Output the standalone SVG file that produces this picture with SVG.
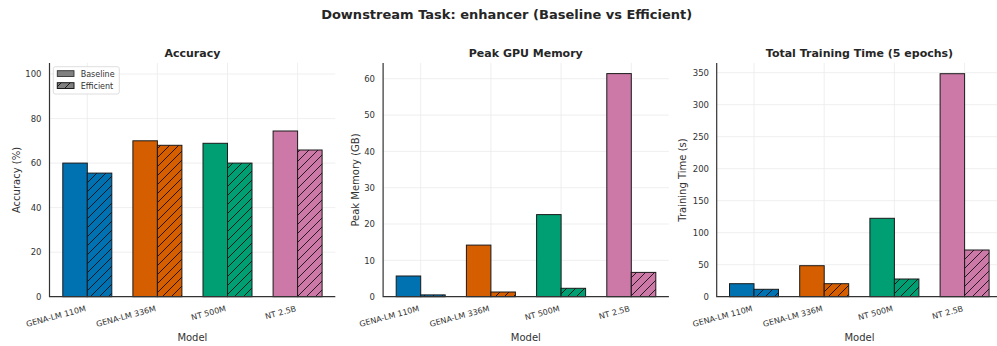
<svg xmlns="http://www.w3.org/2000/svg" width="997" height="346" viewBox="0 0 997 346">
  <style>
    text { font-family: "DejaVu Sans", "Liberation Sans", sans-serif; fill: #262626; }
    .sup { font-size: 13px; font-weight: bold; text-anchor: middle; }
    .ttl { font-size: 11px; font-weight: bold; text-anchor: middle; }
    .lab { font-size: 10px; text-anchor: middle; fill: #333; }
    .yt { font-size: 8.5px; text-anchor: end; fill: #333; }
    .xt { font-size: 8px; text-anchor: end; fill: #333; }
    .leg { font-size: 8px; fill: #333; }
    .grid line { stroke: #ebebeb; stroke-width: 0.8; }
    .spine { stroke: #333; stroke-width: 1.2; fill: none; }
    .bar { stroke: #1a1a1a; stroke-width: 1; }
    .hat { fill: url(#hatch); stroke: #1a1a1a; stroke-width: 1; }
    .blue { fill: #0072B2; } .orange { fill: #D55E00; } .green { fill: #009E73; } .pink { fill: #CC79A7; }
  </style>
  <defs>
    <pattern id="hatch" patternUnits="userSpaceOnUse" width="9" height="9">
      <path d="M0,9 L9,0 M-2.25,2.25 L2.25,-2.25 M6.75,11.25 L11.25,6.75" stroke="#000" stroke-width="0.8"/>
    </pattern>
  </defs>
  <rect width="997" height="346" fill="#fff"/>

  <text class="sup" x="506.7" y="19">Downstream Task: enhancer (Baseline vs Efficient)</text>

  <!-- Panel 1: accuracy -->
  <g id="panel-accuracy">
    <g class="grid">
      <line x1="49.5" x2="335.3" y1="252.2" y2="252.2"/>
      <line x1="49.5" x2="335.3" y1="207.6" y2="207.6"/>
      <line x1="49.5" x2="335.3" y1="163.1" y2="163.1"/>
      <line x1="49.5" x2="335.3" y1="118.6" y2="118.6"/>
      <line x1="49.5" x2="335.3" y1="74.0" y2="74.0"/>
      <line x1="87.3" x2="87.3" y1="62.9" y2="296.7"/>
      <line x1="157.4" x2="157.4" y1="62.9" y2="296.7"/>
      <line x1="227.5" x2="227.5" y1="62.9" y2="296.7"/>
      <line x1="297.6" x2="297.6" y1="62.9" y2="296.7"/>
    </g>
    <g id="acc-bars">
      <rect class="bar blue" x="62.8" y="163.1" width="24.5" height="133.6"/>
      <rect class="blue" x="87.3" y="173.1" width="24.5" height="123.6"/>
      <rect class="hat" x="87.3" y="173.1" width="24.5" height="123.6"/>
      <rect class="bar orange" x="132.9" y="140.8" width="24.5" height="155.9"/>
      <rect class="orange" x="157.4" y="145.3" width="24.5" height="151.4"/>
      <rect class="hat" x="157.4" y="145.3" width="24.5" height="151.4"/>
      <rect class="bar green" x="203.0" y="143.3" width="24.5" height="153.4"/>
      <rect class="green" x="227.5" y="163.1" width="24.5" height="133.6"/>
      <rect class="hat" x="227.5" y="163.1" width="24.5" height="133.6"/>
      <rect class="bar pink" x="273.1" y="131.0" width="24.5" height="165.7"/>
      <rect class="pink" x="297.6" y="150.0" width="24.5" height="146.7"/>
      <rect class="hat" x="297.6" y="150.0" width="24.5" height="146.7"/>
    </g>
    <path class="spine" d="M49.5,62.9 V296.7 H335.3"/>
    <text class="yt" x="41.5" y="299.8">0</text>
    <text class="yt" x="41.5" y="255.3">20</text>
    <text class="yt" x="41.5" y="210.7">40</text>
    <text class="yt" x="41.5" y="166.2">60</text>
    <text class="yt" x="41.5" y="121.7">80</text>
    <text class="yt" x="41.5" y="77.1">100</text>
    <text class="xt" transform="translate(86.3,311) rotate(-15)">GENA-LM 110M</text>
    <text class="xt" transform="translate(156.4,311) rotate(-15)">GENA-LM 336M</text>
    <text class="xt" transform="translate(226.5,311) rotate(-15)">NT 500M</text>
    <text class="xt" transform="translate(296.6,311) rotate(-15)">NT 2.5B</text>
    <text class="ttl" x="192.4" y="57">Accuracy</text>
    <text class="lab" x="192.4" y="341">Model</text>
    <text class="lab" transform="translate(19.5,180) rotate(-90)">Accuracy (%)</text>
    <g id="legend">
      <rect x="53.3" y="66.7" width="66" height="27.3" rx="2" fill="#fff" fill-opacity="0.85" stroke="#d6d6d6" stroke-width="0.8"/>
      <rect x="57.3" y="70.7" width="16.7" height="5.8" fill="#808080" stroke="#333" stroke-width="0.9"/>
      <rect x="57.3" y="82.7" width="16.7" height="5.8" fill="#808080"/>
      <rect class="hat" x="57.3" y="82.7" width="16.7" height="5.8" stroke-width="0.9"/>
      <text class="leg" x="80.7" y="76.5">Baseline</text>
      <text class="leg" x="80.7" y="88.5">Efficient</text>
    </g>
  </g>

  <!-- Panel 2: peak GPU memory -->
  <g id="panel-memory">
    <g class="grid">
      <line x1="383.1" x2="668.9" y1="260.4" y2="260.4"/>
      <line x1="383.1" x2="668.9" y1="224.0" y2="224.0"/>
      <line x1="383.1" x2="668.9" y1="187.7" y2="187.7"/>
      <line x1="383.1" x2="668.9" y1="151.4" y2="151.4"/>
      <line x1="383.1" x2="668.9" y1="115.1" y2="115.1"/>
      <line x1="383.1" x2="668.9" y1="78.7" y2="78.7"/>
      <line x1="420.7" x2="420.7" y1="62.9" y2="296.7"/>
      <line x1="490.9" x2="490.9" y1="62.9" y2="296.7"/>
      <line x1="561.1" x2="561.1" y1="62.9" y2="296.7"/>
      <line x1="631.3" x2="631.3" y1="62.9" y2="296.7"/>
    </g>
    <g id="mem-bars">
      <rect class="bar blue" x="396.2" y="276.0" width="24.5" height="20.7"/>
      <rect class="blue" x="420.7" y="294.9" width="24.5" height="1.8"/>
      <rect class="hat" x="420.7" y="294.9" width="24.5" height="1.8"/>
      <rect class="bar orange" x="466.4" y="245.1" width="24.5" height="51.6"/>
      <rect class="orange" x="490.9" y="292.0" width="24.5" height="4.7"/>
      <rect class="hat" x="490.9" y="292.0" width="24.5" height="4.7"/>
      <rect class="bar green" x="536.6" y="214.6" width="24.5" height="82.1"/>
      <rect class="green" x="561.1" y="288.3" width="24.5" height="8.4"/>
      <rect class="hat" x="561.1" y="288.3" width="24.5" height="8.4"/>
      <rect class="bar pink" x="606.8" y="73.6" width="24.5" height="223.1"/>
      <rect class="pink" x="631.3" y="272.4" width="24.5" height="24.3"/>
      <rect class="hat" x="631.3" y="272.4" width="24.5" height="24.3"/>
    </g>
    <path class="spine" d="M383.1,62.9 V296.7 H668.9"/>
    <text class="yt" x="375" y="299.8">0</text>
    <text class="yt" x="375" y="263.5">10</text>
    <text class="yt" x="375" y="227.1">20</text>
    <text class="yt" x="375" y="190.8">30</text>
    <text class="yt" x="375" y="154.5">40</text>
    <text class="yt" x="375" y="118.2">50</text>
    <text class="yt" x="375" y="81.8">60</text>
    <text class="xt" transform="translate(419.7,311) rotate(-15)">GENA-LM 110M</text>
    <text class="xt" transform="translate(489.9,311) rotate(-15)">GENA-LM 336M</text>
    <text class="xt" transform="translate(560.1,311) rotate(-15)">NT 500M</text>
    <text class="xt" transform="translate(630.3,311) rotate(-15)">NT 2.5B</text>
    <text class="ttl" x="525.8" y="57">Peak GPU Memory</text>
    <text class="lab" x="525.8" y="341">Model</text>
    <text class="lab" transform="translate(358.5,180) rotate(-90)">Peak Memory (GB)</text>
  </g>

  <!-- Panel 3: total training time -->
  <g id="panel-time">
    <g class="grid">
      <line x1="716.7" x2="997" y1="264.7" y2="264.7"/>
      <line x1="716.7" x2="997" y1="232.7" y2="232.7"/>
      <line x1="716.7" x2="997" y1="200.7" y2="200.7"/>
      <line x1="716.7" x2="997" y1="168.7" y2="168.7"/>
      <line x1="716.7" x2="997" y1="136.7" y2="136.7"/>
      <line x1="716.7" x2="997" y1="104.7" y2="104.7"/>
      <line x1="716.7" x2="997" y1="72.7" y2="72.7"/>
      <line x1="754.0" x2="754.0" y1="62.9" y2="296.7"/>
      <line x1="824.2" x2="824.2" y1="62.9" y2="296.7"/>
      <line x1="894.4" x2="894.4" y1="62.9" y2="296.7"/>
      <line x1="964.6" x2="964.6" y1="62.9" y2="296.7"/>
    </g>
    <g id="time-bars">
      <rect class="bar blue" x="729.5" y="283.7" width="24.5" height="13.0"/>
      <rect class="blue" x="754.0" y="289.3" width="24.5" height="7.4"/>
      <rect class="hat" x="754.0" y="289.3" width="24.5" height="7.4"/>
      <rect class="bar orange" x="799.7" y="265.7" width="24.5" height="31.0"/>
      <rect class="orange" x="824.2" y="283.7" width="24.5" height="13.0"/>
      <rect class="hat" x="824.2" y="283.7" width="24.5" height="13.0"/>
      <rect class="bar green" x="869.9" y="218.3" width="24.5" height="78.4"/>
      <rect class="green" x="894.4" y="279.0" width="24.5" height="17.7"/>
      <rect class="hat" x="894.4" y="279.0" width="24.5" height="17.7"/>
      <rect class="bar pink" x="940.1" y="73.7" width="24.5" height="223.0"/>
      <rect class="pink" x="964.6" y="250.0" width="24.5" height="46.7"/>
      <rect class="hat" x="964.6" y="250.0" width="24.5" height="46.7"/>
    </g>
    <path class="spine" d="M716.7,62.9 V296.7 H997"/>
    <text class="yt" x="709" y="299.8">0</text>
    <text class="yt" x="709" y="267.8">50</text>
    <text class="yt" x="709" y="235.8">100</text>
    <text class="yt" x="709" y="203.8">150</text>
    <text class="yt" x="709" y="171.8">200</text>
    <text class="yt" x="709" y="139.8">250</text>
    <text class="yt" x="709" y="107.8">300</text>
    <text class="yt" x="709" y="75.8">350</text>
    <text class="xt" transform="translate(753,311) rotate(-15)">GENA-LM 110M</text>
    <text class="xt" transform="translate(823.2,311) rotate(-15)">GENA-LM 336M</text>
    <text class="xt" transform="translate(893.4,311) rotate(-15)">NT 500M</text>
    <text class="xt" transform="translate(963.6,311) rotate(-15)">NT 2.5B</text>
    <text class="ttl" x="859.5" y="57">Total Training Time (5 epochs)</text>
    <text class="lab" x="859.5" y="341">Model</text>
    <text class="lab" transform="translate(685.6,180) rotate(-90)">Training Time (s)</text>
  </g>
</svg>
